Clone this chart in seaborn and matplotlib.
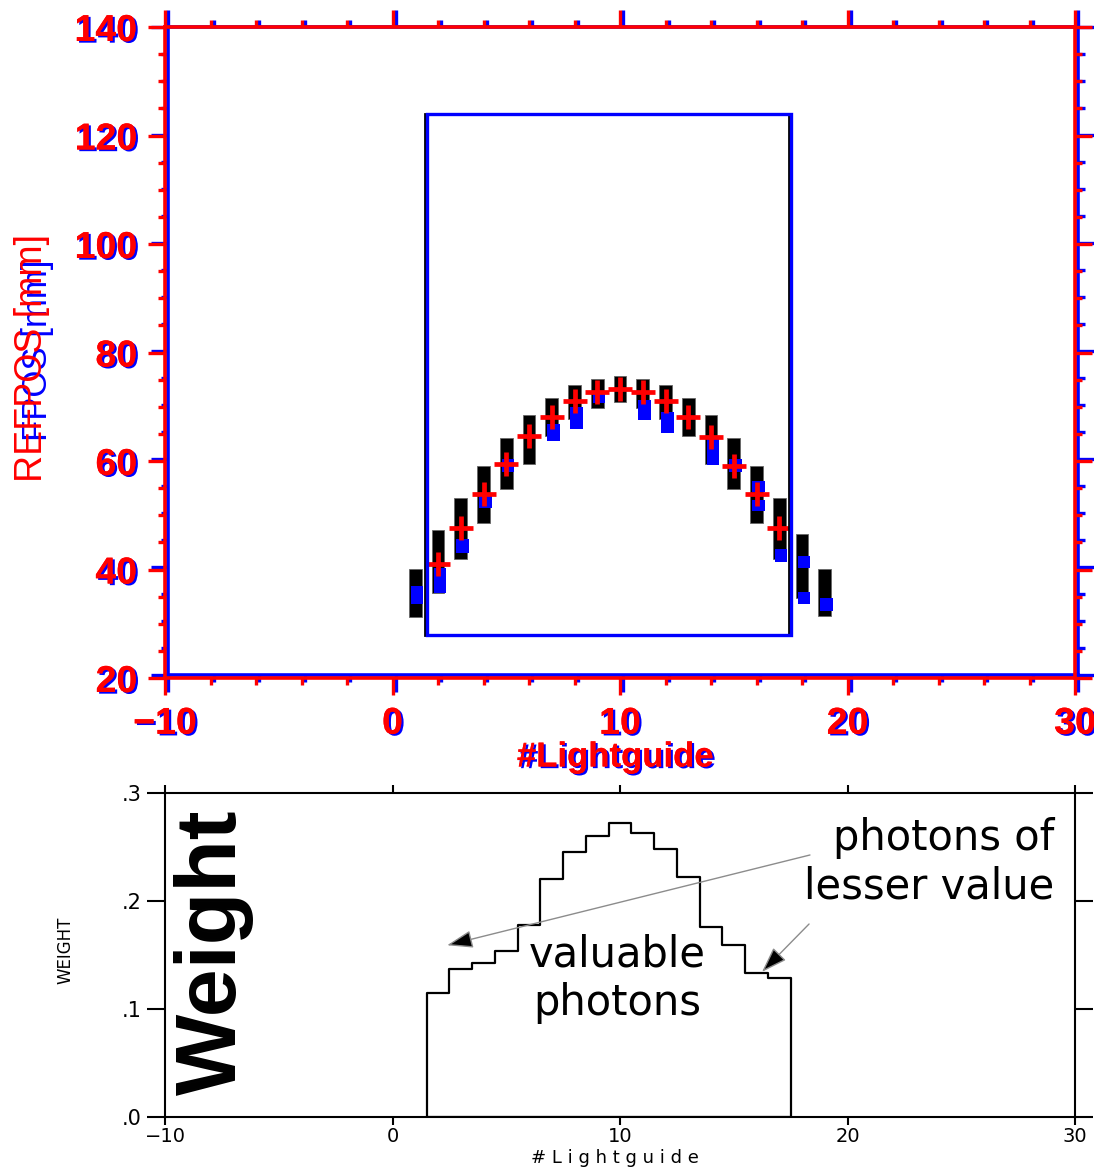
import numpy as np
import matplotlib
matplotlib.use("Agg")
import matplotlib.pyplot as plt
import matplotlib.patheffects as pe
from matplotlib.patches import Rectangle
from matplotlib.ticker import MultipleLocator, FixedLocator
import seaborn as sns

# ---------------- data ----------------
lightguide = [1, 2, 3, 4, 5, 6, 7, 8, 9, 10, 11, 12, 13, 14, 15, 16, 17, 18, 19]
range_low = [31.2, 35.6, 41.9, 48.5, 54.8, 59.4, 64.6, 67.8, 69.8, 70.9,
             69.8, 67.8, 64.6, 59.4, 54.8, 48.5, 42.0, 34.7, 31.4]
range_high = [40.1, 47.2, 53.1, 59.1, 64.2, 68.5, 71.7, 74.1, 75.2, 75.7,
              75.2, 74.1, 71.7, 68.5, 64.2, 59.1, 53.1, 46.5, 40.1]

ref_x = [2, 3, 4, 5, 6, 7, 8, 9, 10, 11, 12, 13, 14, 15, 16, 17]
ref_pos = [41.0, 47.6, 54.0, 59.4, 64.6, 68.1, 71.0, 72.8, 73.3, 72.8,
           71.0, 68.2, 64.4, 59.1, 53.9, 47.7]

fpos_x = [1, 2, 3, 4, 5, 7, 8, 9, 11, 12, 14, 15, 16, 16, 17, 18, 18, 19]
fpos_low = [33.6, 35.6, 43.0, 51.3, 57.9, 63.6, 65.9, 70.6, 67.5, 65.1,
            59.3, 57.9, 54.3, 50.8, 41.4, 40.2, 33.6, 32.4]
fpos_high = [37.0, 40.2, 45.6, 53.7, 60.3, 66.9, 70.0, 72.8, 71.3, 69.0,
             64.6, 60.3, 56.4, 52.8, 43.7, 42.5, 35.8, 34.7]

# acceptance window
window_x = [1.5, 17.5]
window_y = [28.0, 124.0]

# photon weight per lightguide
hist_edges = [1.5, 2.5, 3.5, 4.5, 5.5, 6.5, 7.5, 8.5, 9.5, 10.5, 11.5,
              12.5, 13.5, 14.5, 15.5, 16.5, 17.5]
hist_weights = [0.115, 0.137, 0.143, 0.154, 0.178, 0.220, 0.245, 0.260,
                0.272, 0.263, 0.248, 0.222, 0.176, 0.159, 0.133, 0.129]

top_yticks = [20, 40, 60, 80, 100, 120, 140]
xticks = [-10, 0, 10, 20, 30]
bottom_yticks = [0.0, 0.1, 0.2, 0.3]
bottom_ylabels = [".0", ".1", ".2", ".3"]

# ---------------- style ----------------
sns.set_style("ticks")
plt.rcParams["font.family"] = ["Liberation Sans", "DejaVu Sans"]
plt.rcParams["axes.unicode_minus"] = True
plt.rcParams["text.color"] = "black"
plt.rcParams["xtick.color"] = "black"
plt.rcParams["ytick.color"] = "black"
plt.rcParams["axes.labelcolor"] = "black"

W, H = 1094, 1167
fig = plt.figure(figsize=(W / 100, H / 100), dpi=100)


def box(l, t, r, b):
    return [l / W, 1 - b / H, (r - l) / W, (b - t) / H]


shadow = [pe.withSimplePatchShadow(offset=(1.6, -1.2), shadow_rgbFace="blue", alpha=1.0),
          pe.Normal()]


def style_frame(ax, color):
    for s in ax.spines.values():
        s.set_color(color)
        s.set_linewidth(2.6)
        s.set_visible(True)
    ax.set_xlim(-10, 30)
    ax.set_ylim(20, 140)
    ax.xaxis.set_major_locator(FixedLocator(xticks))
    ax.xaxis.set_minor_locator(MultipleLocator(2))
    ax.yaxis.set_major_locator(FixedLocator(top_yticks))
    ax.yaxis.set_minor_locator(MultipleLocator(5))
    ax.tick_params(which="major", direction="out", length=12, width=2.4, color=color,
                   top=True, right=True, bottom=True, left=True)
    ax.tick_params(which="minor", direction="out", length=5, width=2.4, color=color,
                   top=True, right=True, bottom=True, left=True)


# blue frame drawn underneath the red one
ax_b = fig.add_axes(box(168, 27, 1078, 675))
ax_b.set_facecolor("none")
style_frame(ax_b, "blue")
ax_b.set_xticklabels([])
ax_b.set_yticklabels([])

ax = fig.add_axes(box(165, 27, 1075, 678))
ax.set_facecolor("none")
style_frame(ax, "red")
ax.tick_params(which="major", labelsize=27, labelcolor="red", pad=8)
for lab in ax.get_xticklabels() + ax.get_yticklabels():
    lab.set_fontweight("bold")
    lab.set_path_effects(shadow)

# position ranges
ax.bar(lightguide, np.array(range_high) - np.array(range_low), bottom=range_low,
       width=0.56, color="black", edgecolor="0.4", linewidth=0.6, zorder=2)
# fitted positions
ax.bar(np.array(fpos_x) + 0.08, np.array(fpos_high) - np.array(fpos_low), bottom=fpos_low,
       width=0.55, color="blue", linewidth=0, zorder=3)
# reference positions
sns.scatterplot(x=ref_x, y=ref_pos, marker="+", s=300, color="red", linewidth=3.4,
                ax=ax, zorder=4, legend=False)

win = Rectangle((window_x[0], window_y[0]), window_x[1] - window_x[0],
                window_y[1] - window_y[0], fill=False, edgecolor="blue", linewidth=2.4,
                zorder=5,
                path_effects=[pe.SimpleLineShadow(offset=(-1.5, 0), shadow_color="black",
                                                  alpha=1.0, linewidth=2.0),
                              pe.Normal()])
ax.add_patch(win)
ax.set_xlabel("")
ax.set_ylabel("")

fig.text(615 / W, 1 - 757 / H, "#Lightguide", ha="center", va="center", fontsize=25,
         fontweight="bold", color="red", path_effects=shadow)
fig.text(38 / W, 1 - 350 / H, "FPOS [mm]", ha="center", va="center", fontsize=25,
         rotation=90, color="blue")
fig.text(32 / W, 1 - 358 / H, "REFPOS [mm]", ha="center", va="center", fontsize=27,
         rotation=90, color="red")

# ---------------- weight panel ----------------
ax2 = fig.add_axes(box(165, 793, 1075, 1117))
ax2.set_facecolor("none")
centers = (np.array(hist_edges[:-1]) + np.array(hist_edges[1:])) / 2
sns.histplot(x=centers, weights=hist_weights, bins=hist_edges, element="step",
             fill=True, color="black", ax=ax2)
poly = ax2.collections[-1]
poly.set_facecolor("none")
poly.set_edgecolor("black")
poly.set_alpha(1.0)
poly.set_linewidth(1.6)

ax2.set_xlim(-10, 30)
ax2.set_ylim(0, 0.3)
for s in ax2.spines.values():
    s.set_color("black")
    s.set_linewidth(1.5)
    s.set_visible(True)
ax2.xaxis.set_major_locator(FixedLocator(xticks))
ax2.yaxis.set_major_locator(FixedLocator(bottom_yticks))
ax2.set_yticklabels(bottom_ylabels)
ax2.tick_params(axis="y", direction="out", length=13, width=1.5, left=True, right=True,
                labelsize=15, pad=4, colors="black")
ax2.tick_params(axis="x", direction="out", length=6, width=1.5, top=True, bottom=True,
                labelsize=14, pad=1, colors="black")
for lab in ax2.get_xticklabels() + ax2.get_yticklabels():
    lab.set_family("DejaVu Sans")
ax2.set_xlabel("")
ax2.set_ylabel("")

fig.text(615 / W, 1 - 1158 / H, "# L i g h t g u i d e", ha="center", va="center",
         fontsize=13, family="DejaVu Sans")
fig.text(65 / W, 1 - 950 / H, "WEIGHT", ha="center", va="center", fontsize=12,
         rotation=90, family="DejaVu Sans")
fig.text(214 / W, 1 - 952 / H, "Weight", ha="center", va="center", fontsize=62,
         fontweight="bold", rotation=90, color="black")

ax2.text(29.1, 0.236, "photons of\nlesser value", ha="right", va="center",
         fontsize=30, family="DejaVu Sans", linespacing=1.2, color="black")
ax2.text(9.9, 0.128, "valuable\nphotons", ha="center", va="center",
         fontsize=30, family="DejaVu Sans", linespacing=1.2, color="black")

arrow_kw = dict(arrowstyle="-|>,head_length=1.6,head_width=0.55", fc="black", ec="0.55",
                lw=1.0, shrinkA=0, shrinkB=0)
ax2.annotate("", xy=(2.4, 0.159), xytext=(18.35, 0.2426), arrowprops=arrow_kw)
ax2.annotate("", xy=(16.24, 0.1343), xytext=(18.31, 0.1787), arrowprops=arrow_kw)

fig.savefig("out.png", dpi=100)
